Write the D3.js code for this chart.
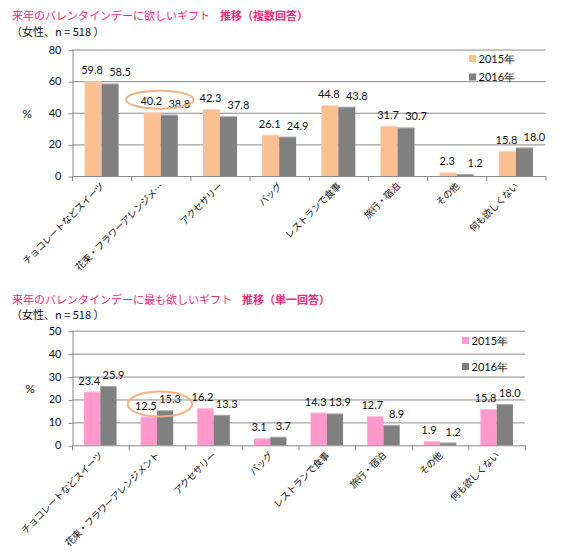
<!DOCTYPE html>
<html><head><meta charset="utf-8">
<script src="https://cdn.jsdelivr.net/npm/d3@7"></script>
<style>
body{margin:0;background:#fff;}
text{font-family:"Noto Sans CJK JP","Noto Sans",sans-serif;}
.num{font-family:Lato,"Liberation Sans",sans-serif;}
</style></head>
<body>
<svg id="c" width="564" height="560"></svg>
<script>
// ---- data ----
const categoriesMulti = ["チョコレートなどスイーツ","花束・フラワーアレンジメ…","アクセサリー","バッグ","レストランで食事","旅行・宿泊","その他","何も欲しくない"];
const categoriesSingle = ["チョコレートなどスイーツ","花束・フラワーアレンジメント","アクセサリー","バッグ","レストランで食事","旅行・宿泊","その他","何も欲しくない"];
const seriesNames = ["2015年","2016年"];
const multi2015 = [59.8, 40.2, 42.3, 26.1, 44.8, 31.7, 2.3, 15.8];
const multi2016 = [58.5, 38.8, 37.8, 24.9, 43.8, 30.7, 1.2, 18.0];
const single2015 = [23.4, 12.5, 16.2, 3.1, 14.3, 12.7, 1.9, 15.8];
const single2016 = [25.9, 15.3, 13.3, 3.7, 13.9, 8.9, 1.2, 18.0];
const ticksMulti = [0, 20, 40, 60, 80];
const ticksSingle = [0, 10, 20, 30, 40, 50];
const titleMulti = ["来年のバレンタインデーに欲しいギフト", "推移（複数回答）"];
const titleSingle = ["来年のバレンタインデーに最も欲しいギフト", "推移（単一回答）"];
const subtitle = "（女性、n = 518 ）";

const svg = d3.select("#c");

function drawChart(o) {
  const g = svg.append("g");
  const x = d3.scaleBand().domain(o.categories).range([o.x0, o.x1]).padding(0);
  const pad = x.bandwidth() * 0.213;
  const x1 = d3.scaleBand().domain(seriesNames).range([pad, x.bandwidth() - pad]).padding(0);
  const y = d3.scaleLinear().domain([0, o.ticks[o.ticks.length - 1]]).range([o.yb, o.yt]);

  // title
  const t = g.append("text").attr("x", 12).attr("y", o.titleY).attr("font-size", 11).attr("fill", "#EE2A7B");
  t.append("tspan").text(o.title[0]);
  t.append("tspan").attr("dx", 10).attr("font-weight", "bold").text(o.title[1]);
  g.append("text").attr("x", 11).attr("y", o.titleY + 15.5).attr("font-size", 11).attr("fill", "#111").text(subtitle);

  // grid
  g.append("g").selectAll("line").data(o.ticks.slice(1)).join("line")
    .attr("x1", o.x0).attr("x2", o.x1).attr("y1", d => y(d) + 0.5).attr("y2", d => y(d) + 0.5)
    .attr("stroke", "#8a8a8a").attr("stroke-width", 1);

  // y axis
  const ya = g.append("g").attr("transform", `translate(${o.x0 + 0.5},0)`)
    .call(d3.axisLeft(y).tickValues(o.ticks).tickSize(4).tickPadding(7).tickSizeOuter(0));
  ya.select(".domain").attr("stroke", "#8a8a8a");
  ya.selectAll(".tick line").attr("stroke", "#8a8a8a").attr("transform", "translate(0,0.5)");
  ya.selectAll(".tick text").attr("class", "num").attr("font-size", 11).attr("fill", "#111");

  g.append("text").attr("x", o.pctX).attr("y", y(o.ticks[o.ticks.length - 1] / 2) + 5)
    .attr("text-anchor", "middle").attr("font-size", 12).attr("class", "num").attr("fill", "#111").text("%");

  // bars
  const rows = o.categories.map((c, i) => ({ c, vals: [o.s1[i], o.s2[i]] }));
  const grp = g.append("g").selectAll("g").data(rows).join("g")
    .attr("transform", d => `translate(${x(d.c)},0)`);
  grp.selectAll("rect").data(d => d.vals.map((v, k) => ({ k, v }))).join("rect")
    .attr("x", d => x1(seriesNames[d.k]))
    .attr("width", x1.bandwidth())
    .attr("y", d => y(d.v))
    .attr("height", d => y(0) - y(d.v))
    .attr("fill", d => o.colors[d.k]);
  grp.selectAll("line.hl").data(d => d.vals.map((v, k) => ({ k, v }))).join("line")
    .attr("class", "hl")
    .attr("x1", d => x1(seriesNames[d.k])).attr("x2", d => x1(seriesNames[d.k]) + x1.bandwidth())
    .attr("y1", d => y(d.v) + 0.5).attr("y2", d => y(d.v) + 0.5)
    .attr("stroke", "#fff").attr("stroke-opacity", 0.35);
  grp.selectAll("text").data(d => d.vals.map((v, k) => ({ k, v }))).join("text")
    .attr("class", "num")
    .attr("x", d => x1(seriesNames[d.k]) + x1.bandwidth() / 2 + o.labelDx[d.k])
    .attr("y", d => y(d.v) - 7)
    .attr("text-anchor", "middle").attr("font-size", 11).attr("fill", "#111")
    .text(d => d.v.toFixed(1));

  // x axis
  g.append("line").attr("x1", o.x0).attr("x2", o.x1).attr("y1", o.yb + 0.5).attr("y2", o.yb + 0.5).attr("stroke", "#8a8a8a");
  const bounds = o.categories.map(c => x(c)).concat([x.range()[1]]);
  g.append("g").selectAll("line").data(bounds).join("line")
    .attr("x1", d => d + 0.5).attr("x2", d => d + 0.5).attr("y1", o.yb).attr("y2", o.yb + 5).attr("stroke", "#8a8a8a");
  g.append("g").selectAll("text").data(o.categories).join("text")
    .attr("transform", d => `translate(${x(d) + x.bandwidth() / 2 + 3},${o.yb + 11}) rotate(-45)`)
    .attr("text-anchor", "end").attr("font-size", 9.6).attr("fill", "#111")
    .attr("letter-spacing", -0.4)
    .text(d => d);

  // legend
  seriesNames.forEach((s, k) => {
    const ly = o.legY + k * o.legGap;
    g.append("rect").attr("x", o.legX).attr("y", ly - 3.5).attr("width", 7).attr("height", 7).attr("fill", o.colors[k]);
    g.append("text").attr("x", o.legX + 9.5).attr("y", ly + 4).attr("font-size", 11).attr("fill", "#111")
      .attr("class", "num").text(s);
  });

  // highlight ellipse around 2nd category
  const c1 = o.categories[1];
  g.append("ellipse")
    .attr("cx", x(c1) + x.bandwidth() / 2 + o.ell.dx)
    .attr("cy", y(o.ell.v))
    .attr("rx", x.bandwidth() * 0.57).attr("ry", o.ell.ry)
    .attr("fill", "none").attr("stroke", "#F4B183").attr("stroke-width", 2);
}

drawChart({
  categories: categoriesMulti, s1: multi2015, s2: multi2016, ticks: ticksMulti,
  title: titleMulti, titleY: 20, x0: 72, x1: 545.5, yt: 49.5, yb: 176,
  colors: ["#FAC090", "#808080"], labelDx: [-1, 10], pctX: 27,
  legX: 469, legY: 58.5, legGap: 18.5, ell: { v: 48.3, dx: -1, ry: 9 }
});
drawChart({
  categories: categoriesSingle, s1: single2015, s2: single2016, ticks: ticksSingle,
  title: titleSingle, titleY: 303.5, x0: 72, x1: 525, yt: 330.7, yb: 445.3,
  colors: ["#FF99CC", "#808080"], labelDx: [-3, 5], pctX: 30,
  legX: 462, legY: 340.5, legGap: 26, ell: { v: 18, dx: 3, ry: 12.5 }
});
</script>
</body></html>
